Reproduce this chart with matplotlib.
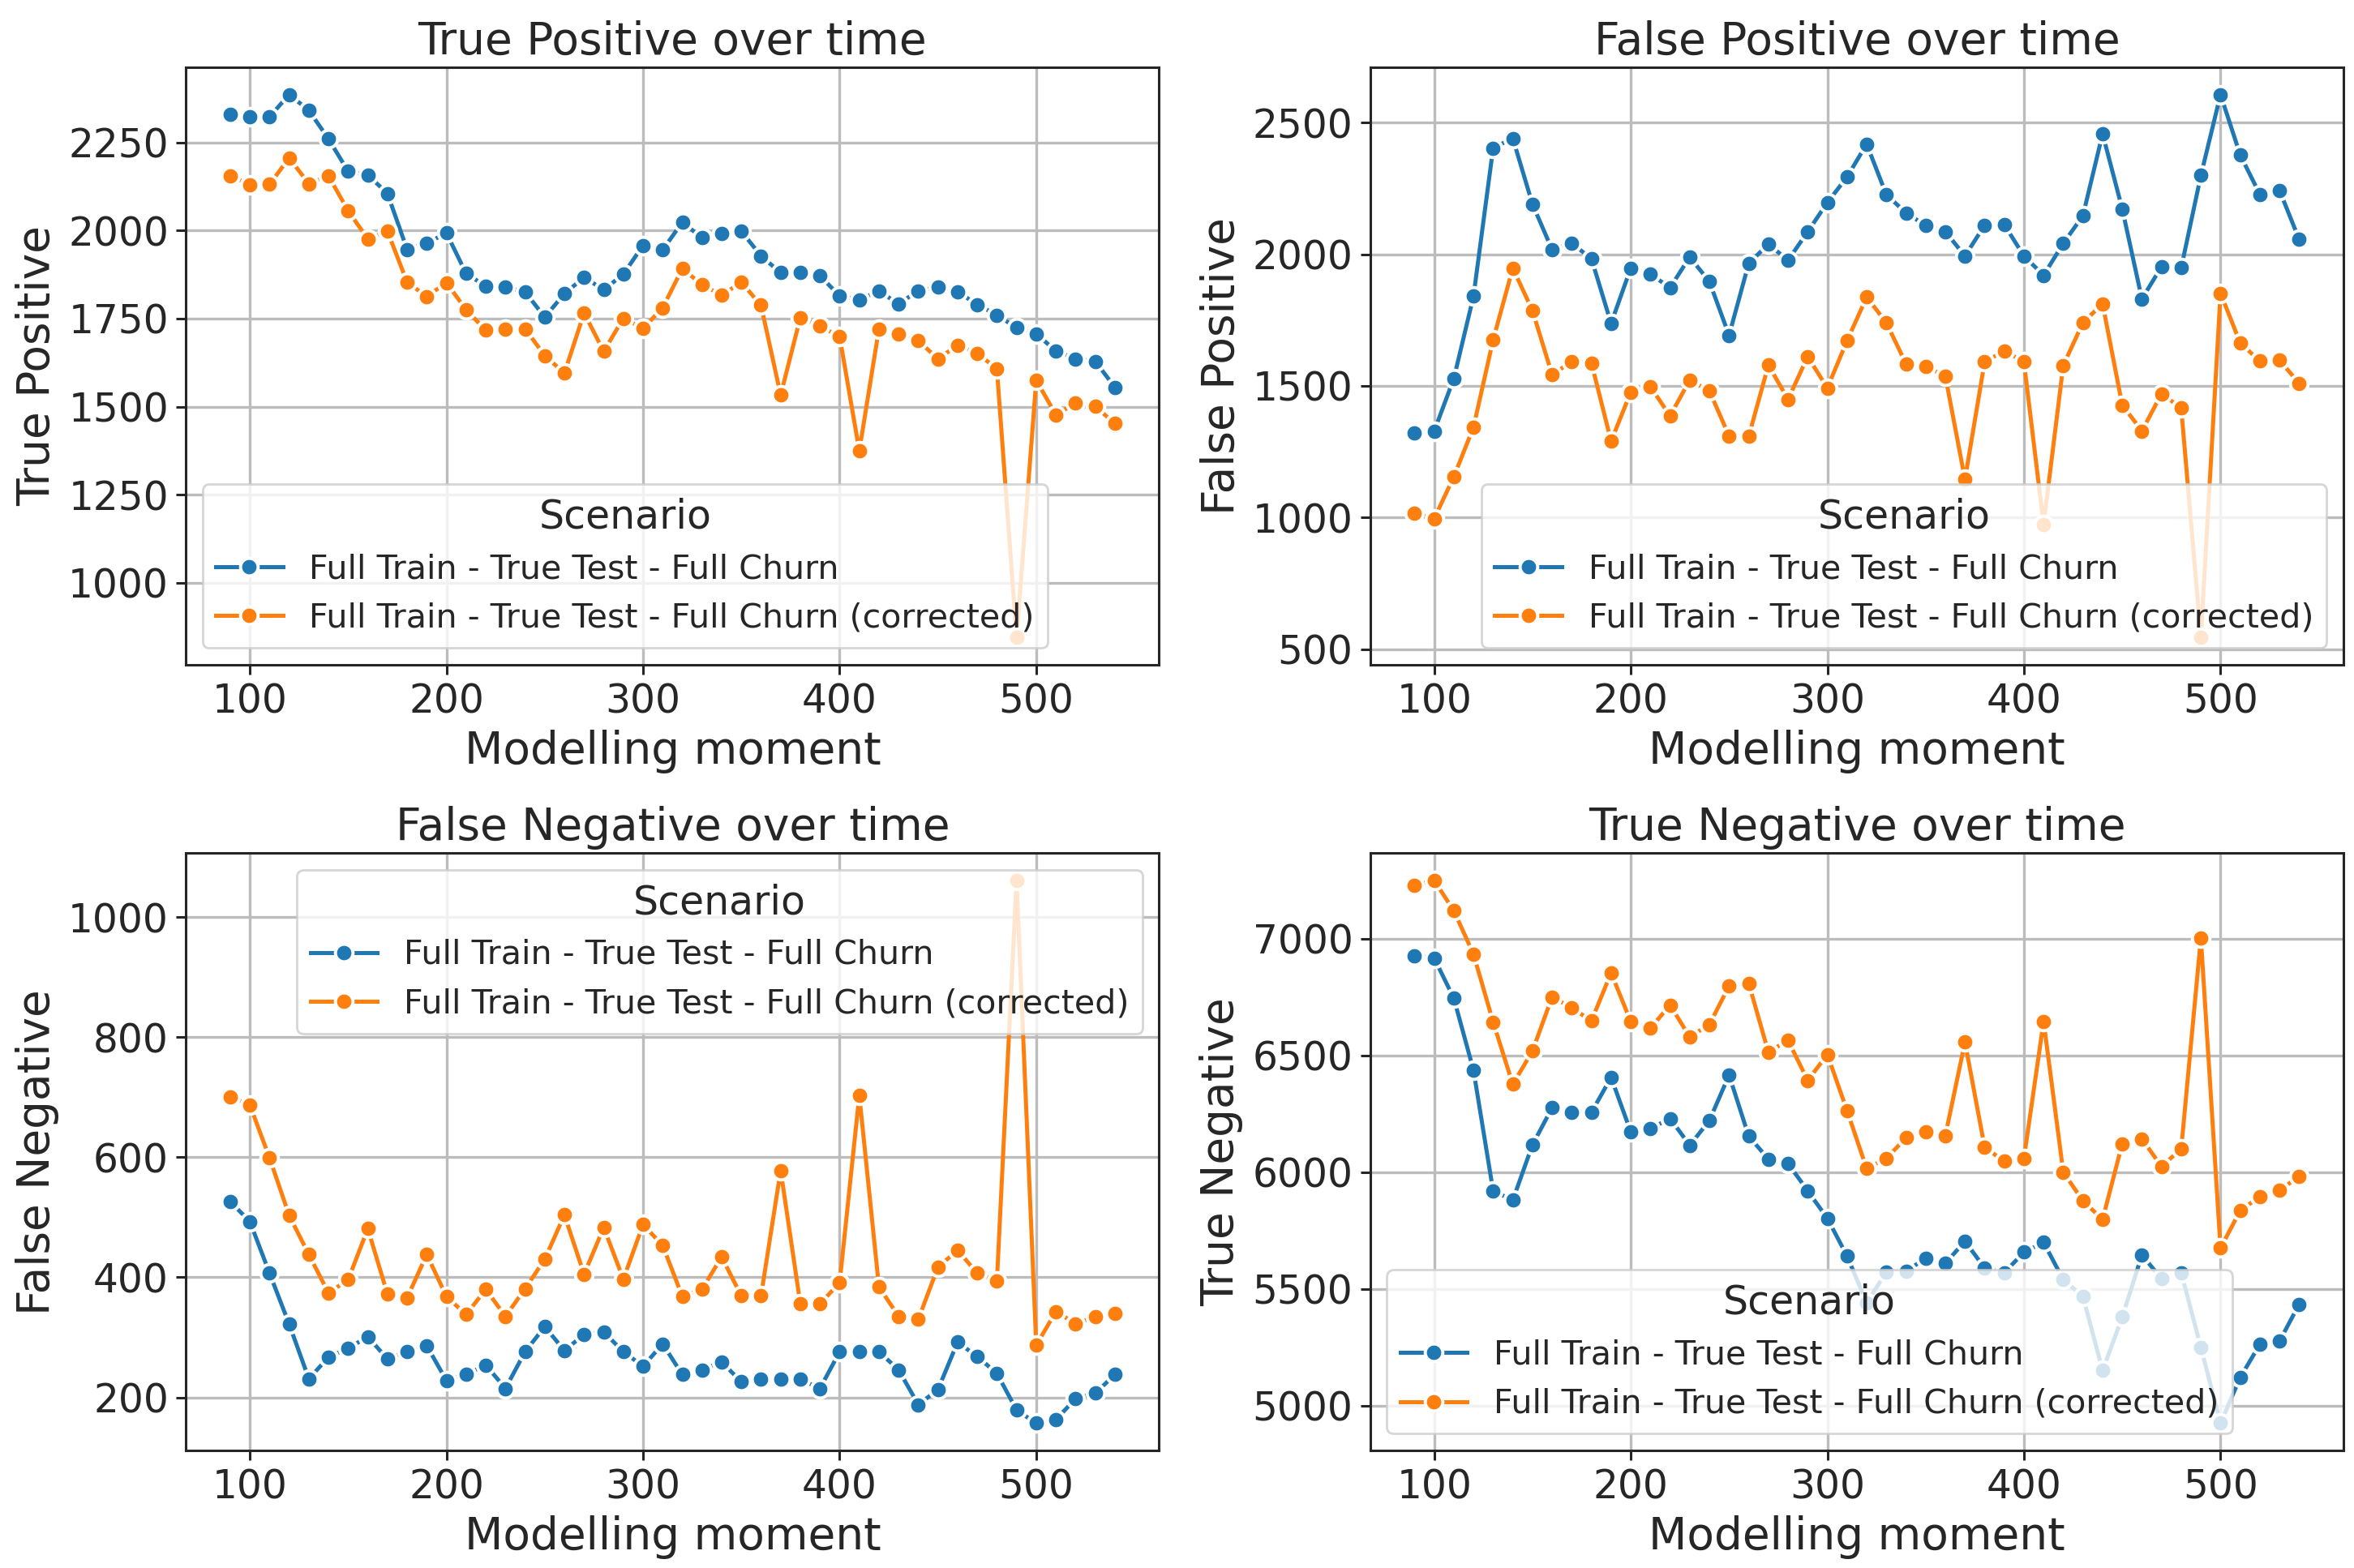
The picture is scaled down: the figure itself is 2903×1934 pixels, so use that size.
import numpy as np
import matplotlib
matplotlib.use("Agg")
import matplotlib.pyplot as plt

moments = list(range(90, 550, 10))

tp_full = [2330, 2324, 2323, 2386, 2341, 2260, 2168, 2158, 2105, 1946,
           1964, 1993, 1878, 1842, 1839, 1826, 1754, 1821, 1867, 1832,
           1876, 1958, 1945, 2024, 1979, 1992, 1998, 1928, 1880, 1880,
           1872, 1814, 1804, 1828, 1792, 1829, 1839, 1826, 1790, 1760,
           1724, 1707, 1658, 1636, 1629, 1555]
tp_corr = [2156, 2130, 2131, 2206, 2133, 2155, 2056, 1976, 1998, 1853,
           1813, 1852, 1775, 1717, 1719, 1721, 1645, 1595, 1766, 1657,
           1751, 1722, 1781, 1892, 1846, 1817, 1853, 1788, 1533, 1753,
           1729, 1699, 1375, 1721, 1706, 1687, 1636, 1674, 1652, 1607,
           845, 1575, 1477, 1510, 1501, 1452]

fp_full = [1320, 1328, 1528, 1840, 2403, 2440, 2190, 2017, 2041, 1983,
           1737, 1947, 1924, 1873, 1989, 1896, 1692, 1965, 2038, 1977,
           2085, 2196, 2293, 2418, 2226, 2157, 2109, 2086, 1993, 2110,
           2112, 1993, 1920, 2041, 2146, 2457, 2172, 1830, 1953, 1948,
           2299, 2606, 2377, 2227, 2242, 2056]
fp_corr = [1016, 996, 1155, 1343, 1675, 1947, 1786, 1542, 1593, 1587,
           1290, 1476, 1497, 1386, 1522, 1481, 1310, 1308, 1579, 1449,
           1611, 1492, 1671, 1837, 1740, 1584, 1573, 1538, 1145, 1591,
           1633, 1591, 974, 1578, 1740, 1812, 1427, 1329, 1470, 1416,
           545, 1852, 1663, 1594, 1597, 1510]

fn_full = [526, 493, 407, 322, 231, 267, 282, 301, 264, 276,
           286, 228, 238, 254, 215, 276, 318, 278, 305, 309,
           276, 252, 289, 238, 246, 259, 226, 230, 230, 230,
           215, 276, 276, 276, 246, 188, 213, 292, 268, 240,
           179, 157, 163, 198, 207, 238]
fn_corr = [701, 687, 599, 503, 438, 374, 396, 481, 372, 366,
           438, 368, 338, 380, 335, 381, 430, 504, 405, 483,
           397, 488, 453, 368, 380, 434, 369, 369, 578, 356,
           356, 391, 703, 384, 335, 330, 417, 445, 407, 394,
           1061, 287, 343, 323, 334, 340]

tn_full = [6926, 6917, 6745, 6437, 5919, 5880, 6117, 6276, 6256, 6256,
           6406, 6173, 6186, 6230, 6115, 6221, 6416, 6154, 6056, 6037,
           5920, 5802, 5641, 5440, 5572, 5575, 5631, 5609, 5704, 5589,
           5569, 5657, 5699, 5539, 5468, 5150, 5379, 5645, 5543, 5569,
           5249, 4924, 5120, 5262, 5276, 5434]
tn_corr = [7230, 7250, 7120, 6934, 6643, 6376, 6519, 6751, 6704, 6648,
           6854, 6645, 6617, 6716, 6579, 6633, 6797, 6809, 6514, 6565,
           6393, 6504, 6264, 6015, 6059, 6147, 6173, 6156, 6557, 6107,
           6046, 6059, 6646, 6000, 5877, 5797, 6122, 6142, 6024, 6100,
           7003, 5675, 5835, 5895, 5921, 5983]

scenarios = ["Full Train - True Test - Full Churn",
             "Full Train - True Test - Full Churn (corrected)"]
colors = ["#1f77b4", "#ff7f0e"]

panels = [
    ("True Positive", tp_full, tp_corr, "lower left"),
    ("False Positive", fp_full, fp_corr, "lower right"),
    ("False Negative", fn_full, fn_corr, "upper right"),
    ("True Negative", tn_full, tn_corr, "lower left"),
]

plt.rcParams["font.family"] = "DejaVu Sans"
plt.rcParams["text.color"] = "#262626"
plt.rcParams["axes.labelcolor"] = "#262626"
plt.rcParams["xtick.color"] = "#262626"
plt.rcParams["ytick.color"] = "#262626"

fig, axes = plt.subplots(2, 2, figsize=(14.515, 9.67), dpi=200)
fig.subplots_adjust(left=0.079, right=0.9955, top=0.957, bottom=0.075,
                    wspace=0.217, hspace=0.316)

for ax, (name, full, corr, loc) in zip(axes.flat, panels):
    for vals, lab, col in zip([full, corr], scenarios, colors):
        ax.plot(moments, vals, color=col, lw=1.8, marker="o", ms=7.8,
                mec="white", mew=1.4, label=lab)
    ax.set_title(f"{name} over time", fontsize=19.8)
    ax.set_xlabel("Modelling moment", fontsize=19.8)
    ax.set_ylabel(name, fontsize=19.8)
    ax.tick_params(labelsize=17.5, width=1.1, length=4.2)
    ax.grid(True, color="#bcbcbc", lw=1.2)
    ax.set_axisbelow(True)
    for sp in ax.spines.values():
        sp.set_linewidth(1.1)
        sp.set_color("#262626")
    ax.set_xticks([100, 200, 300, 400, 500])
    ax.legend(title="Scenario", loc=loc, fontsize=14.8, title_fontsize=17.6)

axes[0, 0].set_yticks([1000, 1250, 1500, 1750, 2000, 2250])
axes[0, 1].set_yticks([500, 1000, 1500, 2000, 2500])
axes[1, 0].set_yticks([200, 400, 600, 800, 1000])
axes[1, 1].set_yticks([5000, 5500, 6000, 6500, 7000])

fig.savefig("out.png", dpi=200)
